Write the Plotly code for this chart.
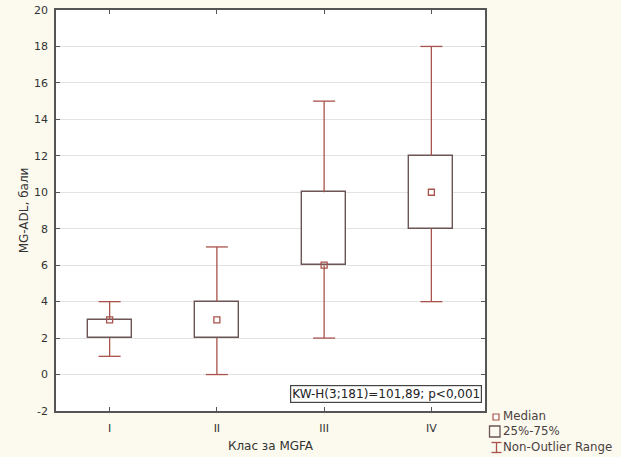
import plotly.graph_objects as go

categories = ["I", "II", "III", "IV"]
whisker_min = [1, 0, 2, 4]
q1 = [2, 2, 6, 8]
median = [3, 3, 6, 10]
q3 = [3, 4, 10, 12]
whisker_max = [4, 7, 15, 18]
y_ticks = list(range(-2, 21, 2))
y_tick_labels = [str(v) for v in y_ticks]
kw_text = "KW-H(3;181)=101,89; p<0,001"
legend_labels = ["Median", "25%-75%", "Non-Outlier Range"]

W_COL = "#a9524b"
BOX_COL = "#6b5555"
FONT = "DejaVu Sans"
L, R, T, B = 56, 136, 10, 46
PW, PH = 621 - L - R, 457 - T - B

xpos = list(range(len(categories)))
cap = 11 / (PW / 4)

fig = go.Figure()

fig.add_trace(go.Bar(
    x=xpos, y=[b - a for a, b in zip(q1, q3)], base=q1, width=0.41,
    marker=dict(color="white", line=dict(color=BOX_COL, width=1.4)),
    showlegend=False, hoverinfo="skip"))

wx, wy = [], []
for i in xpos:
    wx += [i, i, None, i - cap, i + cap, None, i, i, None, i - cap, i + cap, None]
    wy += [q3[i], whisker_max[i], None, whisker_max[i], whisker_max[i], None,
           q1[i], whisker_min[i], None, whisker_min[i], whisker_min[i], None]
fig.add_trace(go.Scatter(x=wx, y=wy, mode="lines",
                         line=dict(color=W_COL, width=1.3),
                         showlegend=False, hoverinfo="skip"))

fig.add_trace(go.Scatter(
    x=xpos, y=median, mode="markers",
    marker=dict(symbol="square-open", size=6, color=W_COL,
                line=dict(width=1.3, color=W_COL)),
    showlegend=False))

def px2x(p):
    return (p - L) / PW

def px2y(p):
    return (457 - B - p) / PH

shapes = []
# legend symbols
shapes.append(dict(type="rect", xref="paper", yref="paper",
                   x0=px2x(493), x1=px2x(499), y0=px2y(420), y1=px2y(414),
                   line=dict(color=W_COL, width=1.2), fillcolor="white"))
shapes.append(dict(type="rect", xref="paper", yref="paper",
                   x0=px2x(489.5), x1=px2x(500), y0=px2y(437), y1=px2y(426),
                   line=dict(color=BOX_COL, width=1.3), fillcolor="rgba(0,0,0,0)"))
shapes.append(dict(type="line", xref="paper", yref="paper",
                   x0=px2x(496.5), x1=px2x(496.5), y0=px2y(452.5), y1=px2y(442.5),
                   line=dict(color=W_COL, width=1.3)))
shapes.append(dict(type="line", xref="paper", yref="paper",
                   x0=px2x(491.5), x1=px2x(501.5), y0=px2y(442.5), y1=px2y(442.5),
                   line=dict(color=W_COL, width=1.3)))
shapes.append(dict(type="line", xref="paper", yref="paper",
                   x0=px2x(491.5), x1=px2x(501.5), y0=px2y(452.5), y1=px2y(452.5),
                   line=dict(color=W_COL, width=1.3)))

annotations = [
    dict(text=kw_text, xref="paper", yref="paper", x=px2x(482), y=px2y(403),
         xanchor="right", yanchor="bottom", showarrow=False,
         font=dict(family=FONT, size=12, color="#222"),
         bgcolor="white", bordercolor="#444", borderwidth=1.2, borderpad=1),
    dict(text="<br>".join(legend_labels), xref="paper", yref="paper",
         x=px2x(502), y=px2y(431), xanchor="left", yanchor="middle",
         align="left", showarrow=False, borderpad=0,
         font=dict(family=FONT, size=11.8, color="#4a3f3f")),
]

axis_common = dict(showline=True, linecolor="#555", linewidth=1.5, mirror="ticks",
                   ticks="inside", ticklen=4, tickcolor="#555", zeroline=False,
                   automargin=False,
                   tickfont=dict(family=FONT, size=11, color="#333"))

fig.update_layout(
    width=621, height=457,
    margin=dict(l=L, r=R, t=T, b=B, autoexpand=False),
    paper_bgcolor="#fcfaee", plot_bgcolor="white",
    shapes=shapes, annotations=annotations,
    bargap=0,
    xaxis=dict(range=[-0.5, 3.5], tickvals=xpos, ticktext=categories,
               showgrid=False, ticklabelstandoff=6,
               title=dict(text="Клас за MGFA", standoff=8,
                          font=dict(family=FONT, size=12, color="#333")),
               **axis_common),
    yaxis=dict(range=[-2, 20], tickvals=y_ticks, ticktext=y_tick_labels,
               showgrid=True, gridcolor="#e3e3e3", gridwidth=1,
               ticklabelstandoff=4,
               title=dict(text="MG-ADL, бали", standoff=3,
                          font=dict(family=FONT, size=12, color="#333")),
               **axis_common),
)

fig.write_html("out.html", config={"displayModeBar": False},
               post_script="document.body.style.margin='0';document.body.style.overflow='hidden';")
